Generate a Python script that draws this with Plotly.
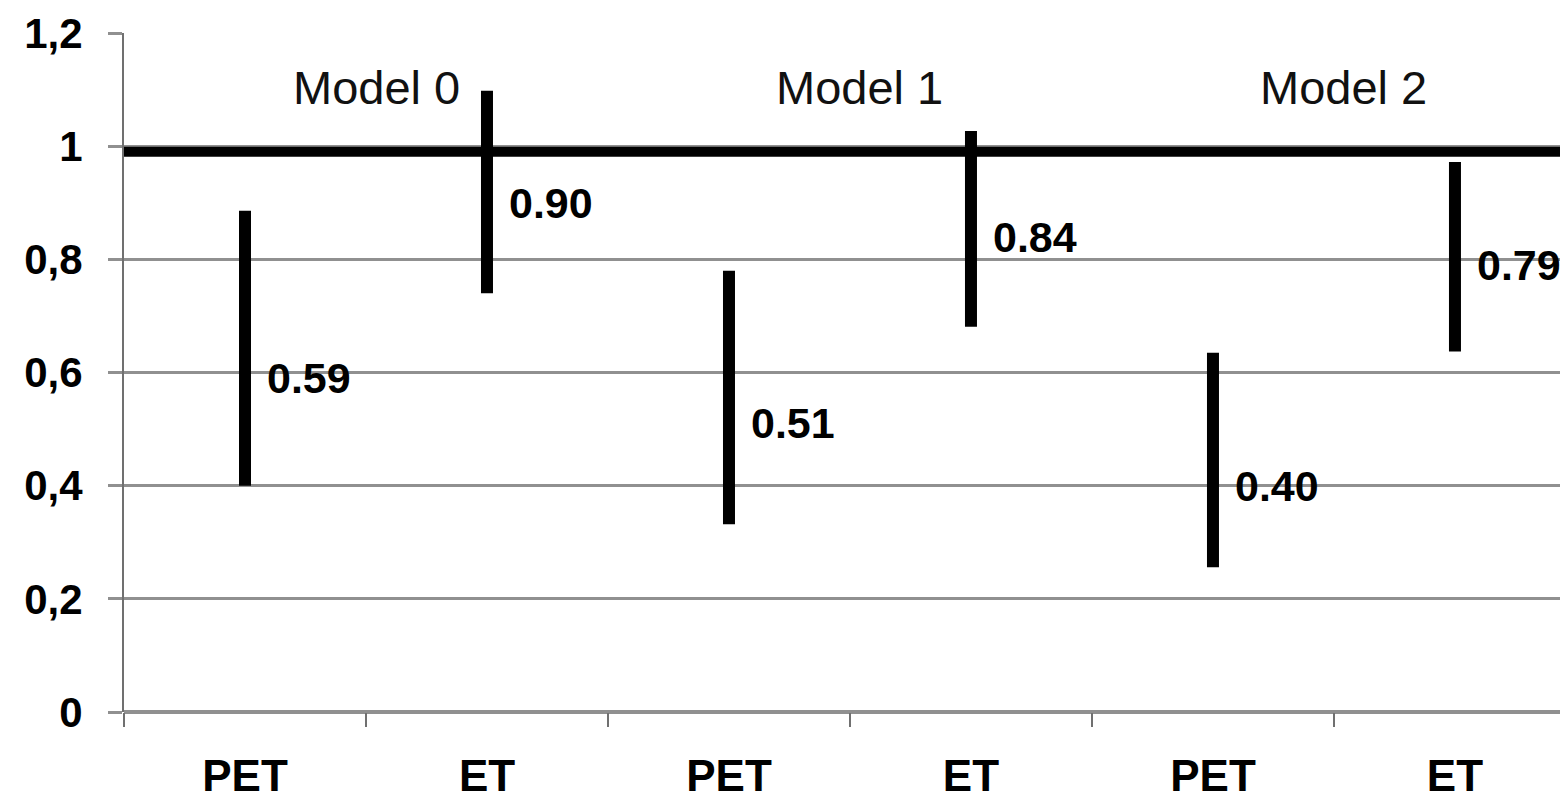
import plotly.graph_objects as go

# ---- data ----
groups = ["PET", "ET", "PET", "ET", "PET", "ET"]
models = ["Model 0", "Model 1", "Model 2"]
ci_low = [0.40, 0.74, 0.332, 0.681, 0.256, 0.637]
ci_high = [0.886, 1.098, 0.780, 1.027, 0.635, 0.972]
estimates = [0.59, 0.90, 0.51, 0.84, 0.40, 0.79]
y_ticks = [0, 0.2, 0.4, 0.6, 0.8, 1.0, 1.2]
y_tick_labels = ["0", "0,2", "0,4", "0,6", "0,8", "1", "1,2"]
ref_value = 0.99

FONT = "Liberation Sans, Arial, sans-serif"

xpos = list(range(len(groups)))
xs, ys = [], []
for i, (lo, hi) in enumerate(zip(ci_low, ci_high)):
    xs += [i, i, None]
    ys += [lo, hi, None]

fig = go.Figure()
fig.add_trace(go.Scatter(x=xs, y=ys, mode="lines",
                         line=dict(color="black", width=12),
                         hoverinfo="skip", showlegend=False))

# reference line
fig.add_shape(type="line", xref="paper", x0=0, x1=1, yref="y",
              y0=ref_value, y1=ref_value,
              line=dict(color="black", width=10), layer="above")

# value labels
for i, v in enumerate(estimates):
    fig.add_annotation(x=i, y=v, text=f"{v:.2f}", showarrow=False,
                       xanchor="left", yanchor="middle", xshift=20,
                       font=dict(family=FONT, size=43, color="black", weight="bold"))

# model labels
for k, m in enumerate(models):
    fig.add_annotation(x=2 * k + 0.5, y=1.103, text=m, showarrow=False,
                       xanchor="center", yanchor="middle", xshift=10,
                       font=dict(family=FONT, size=47, color="#111111"))

boundaries = [i - 0.5 for i in range(len(groups) + 1)]

fig.update_layout(
    width=1560, height=800,
    margin=dict(l=124, r=0, t=33, b=86),
    plot_bgcolor="white", paper_bgcolor="white",
    xaxis=dict(
        range=[-0.5, 5.434],
        tickvals=xpos, ticktext=groups,
        ticks="", showgrid=False, zeroline=False,
        tickfont=dict(family=FONT, size=44, color="black", weight="bold"),
        ticklabelstandoff=34,
        minor=dict(tickvals=boundaries, ticks="outside", ticklen=14,
                   tickwidth=2, tickcolor="#707070", showgrid=False),
        showline=False,
    ),
    yaxis=dict(
        range=[0, 1.2],
        tickvals=y_ticks, ticktext=y_tick_labels,
        ticks="outside", ticklen=14, tickwidth=3, tickcolor="#909090",
        showgrid=True, gridcolor="#909090", gridwidth=3,
        zeroline=True, zerolinecolor="#909090", zerolinewidth=4,
        showline=True, linecolor="#707070", linewidth=2,
        tickfont=dict(family=FONT, size=42, color="black", weight="bold"),
        ticklabelstandoff=17,
    ),
)

fig.write_html("out.html")
